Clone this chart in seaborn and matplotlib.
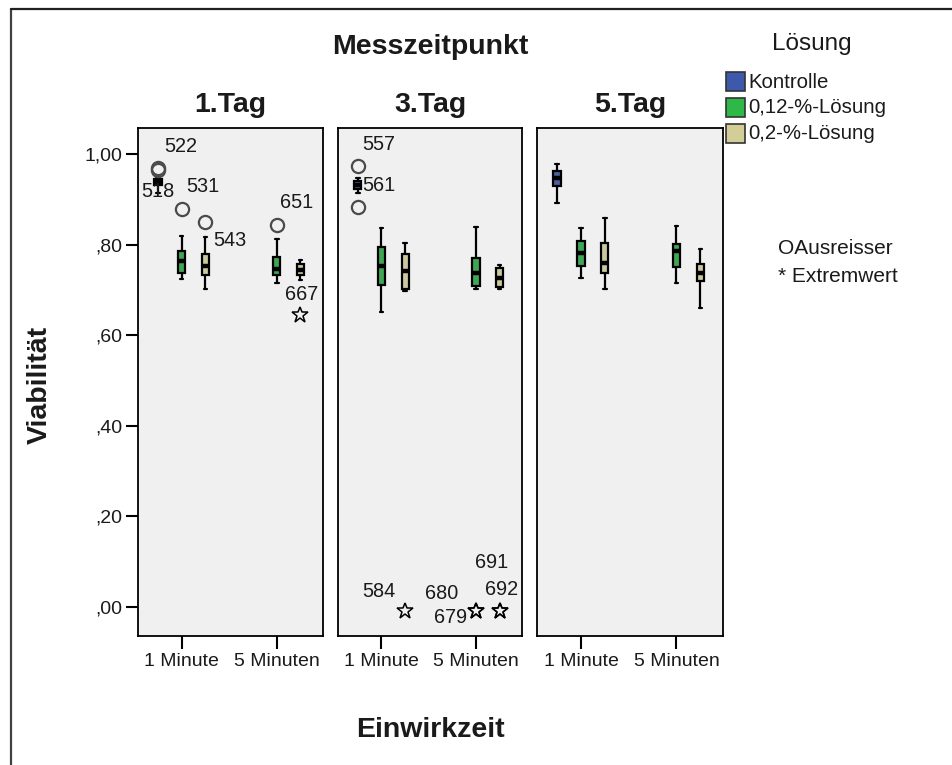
import numpy as np
import pandas as pd
import matplotlib
matplotlib.use("Agg")
import matplotlib.pyplot as plt
import seaborn as sns
from matplotlib.patches import Rectangle
from matplotlib.lines import Line2D

# ---------------- data ----------------
days = ["1.Tag", "3.Tag", "5.Tag"]
times = ["1 Minute", "5 Minuten"]
groups = ["Kontrolle", "0,12-%-Lösung", "0,2-%-Lösung"]
colors = ["#3E58AC", "#2EB848", "#D3CE97"]
y_ticks = [0.0, 0.2, 0.4, 0.6, 0.8, 1.0]
y_ticklabels = [",00", ",20", ",40", ",60", ",80", "1,00"]

# five-number summaries (min, Q1, median, Q3, max) per box
tag1_boxes = [
    ("1 Minute", "Kontrolle",      [0.914, 0.931, 0.938, 0.946, 0.950]),
    ("1 Minute", "0,12-%-Lösung",  [0.725, 0.738, 0.765, 0.787, 0.820]),
    ("1 Minute", "0,2-%-Lösung",   [0.703, 0.732, 0.754, 0.780, 0.817]),
    ("5 Minuten", "0,12-%-Lösung", [0.716, 0.734, 0.747, 0.773, 0.813]),
    ("5 Minuten", "0,2-%-Lösung",  [0.723, 0.732, 0.743, 0.758, 0.767]),
]
tag3_boxes = [
    ("1 Minute", "Kontrolle",      [0.915, 0.923, 0.932, 0.940, 0.947]),
    ("1 Minute", "0,12-%-Lösung",  [0.652, 0.712, 0.754, 0.796, 0.837]),
    ("1 Minute", "0,2-%-Lösung",   [0.698, 0.703, 0.741, 0.780, 0.804]),
    ("5 Minuten", "0,12-%-Lösung", [0.703, 0.709, 0.738, 0.771, 0.839]),
    ("5 Minuten", "0,2-%-Lösung",  [0.701, 0.707, 0.727, 0.749, 0.755]),
]
tag5_boxes = [
    ("1 Minute", "Kontrolle",      [0.893, 0.930, 0.947, 0.963, 0.979]),
    ("1 Minute", "0,12-%-Lösung",  [0.727, 0.753, 0.782, 0.809, 0.837]),
    ("1 Minute", "0,2-%-Lösung",   [0.703, 0.738, 0.760, 0.804, 0.859]),
    ("5 Minuten", "0,12-%-Lösung", [0.716, 0.750, 0.785, 0.802, 0.842]),
    ("5 Minuten", "0,2-%-Lösung",  [0.659, 0.719, 0.738, 0.758, 0.791]),
]

# outliers: (time, group, value, case id, kind) kind "o" = Ausreisser, "*" = Extremwert
tag1_outliers = [
    ("1 Minute", "Kontrolle", 0.969, "522", "o"),
    ("1 Minute", "Kontrolle", 0.966, "518", "o"),
    ("1 Minute", "0,12-%-Lösung", 0.879, "531", "o"),
    ("1 Minute", "0,2-%-Lösung", 0.851, "543", "o"),
    ("5 Minuten", "0,12-%-Lösung", 0.844, "651", "o"),
    ("5 Minuten", "0,2-%-Lösung", 0.644, "667", "*"),
]
tag3_outliers = [
    ("1 Minute", "Kontrolle", 0.974, "557", "o"),
    ("1 Minute", "Kontrolle", 0.884, "561", "o"),
    ("1 Minute", "0,2-%-Lösung", -0.010, "584", "*"),
    ("5 Minuten", "0,12-%-Lösung", -0.010, "679", "*"),
    ("5 Minuten", "0,12-%-Lösung", -0.010, "680", "*"),
    ("5 Minuten", "0,2-%-Lösung", -0.010, "691", "*"),
    ("5 Minuten", "0,2-%-Lösung", -0.010, "692", "*"),
]
tag5_outliers = []

# label offsets (pixels) for case ids -- styling only
label_offsets = {
    "522": (23, 22), "518": (0, -22), "531": (21, 22), "543": (24, -19),
    "651": (20, 22), "667": (1, 21), "557": (21, 21), "561": (21, 21),
    "584": (-26, 20), "680": (-34, 18), "679": (-25, -6), "691": (-8, 49),
    "692": (2, 22),
}

all_boxes = [tag1_boxes, tag3_boxes, tag5_boxes]
all_outliers = [tag1_outliers, tag3_outliers, tag5_outliers]

rows = []
for day, boxes in zip(days, all_boxes):
    for t, g, vals in boxes:
        for v in vals:
            rows.append({"Messzeitpunkt": day, "Einwirkzeit": t, "Lösung": g, "Viabilität": v})
df = pd.DataFrame(rows)

# ---------------- figure ----------------
sns.set_style("white")
plt.rcParams["font.family"] = ["Liberation Sans", "DejaVu Sans"]

W, H = 952, 765
fig = plt.figure(figsize=(W / 100, H / 100), dpi=100)
fig.patch.set_facecolor("white")


def rect(x0, x1, y0, y1):
    return [x0 / W, 1 - y1 / H, (x1 - x0) / W, (y1 - y0) / H]


def fx(x):
    return x / W


def fy(y):
    return 1 - y / H


panel_x = [(138, 323), (338, 522), (537, 723)]
py0, py1 = 128, 636
palette = dict(zip(groups, colors))
hue_off = {g: (i - 1) * 0.25 for i, g in enumerate(groups)}

for i, day in enumerate(days):
    x0, x1 = panel_x[i]
    ax = fig.add_axes(rect(x0, x1, py0, py1))
    sub = df[df["Messzeitpunkt"] == day]
    sns.boxplot(data=sub, x="Einwirkzeit", y="Viabilität", hue="Lösung",
                order=times, hue_order=groups, palette=palette,
                width=0.75, gap=0.7, whis=(0, 100), showfliers=False,
                linecolor="black", linewidth=1.6, legend=False, ax=ax,
                medianprops=dict(color="black", linewidth=3.2))
    for t, g, v, cid, kind in all_outliers[i]:
        xp = times.index(t) + hue_off[g]
        if kind == "o":
            ax.plot([xp], [v], marker="o", ms=9.5, mfc="none", mec="#4a4a4a",
                    mew=1.6, ls="none", zorder=5)
        else:
            ax.plot([xp], [v], marker="*", ms=12, mfc="none", mec="black",
                    mew=1.1, ls="none", zorder=5)
        ax.annotate(cid, (xp, v), xytext=label_offsets[cid], textcoords="offset pixels",
                    ha="center", va="center", fontsize=14.3, color="#1a1a1a", zorder=6)
    ax.set_facecolor("#F0F0F0")
    ax.set_ylim(-0.065, 1.058)
    ax.set_xlim(-0.46, 1.487)
    ax.set_xlabel("")
    ax.set_ylabel("")
    ax.set_xticks(range(len(times)))
    ax.set_xticklabels(times, fontsize=14, color="#1a1a1a")
    ax.tick_params(axis="x", length=9, width=1.5, color="black", pad=3, bottom=True)
    if i == 0:
        ax.set_yticks(y_ticks)
        ax.set_yticklabels(y_ticklabels, fontsize=14, color="#1a1a1a")
        ax.tick_params(axis="y", length=9, width=1.5, color="black", pad=2, left=True)
    else:
        ax.set_yticks([])
    for s in ax.spines.values():
        s.set_color("black")
        s.set_linewidth(1.3)
    fig.text(fx((x0 + x1) / 2), fy(105), day, ha="center", va="center",
             fontsize=20.5, fontweight="bold", color="#1a1a1a")

# titles
fig.text(fx(430), fy(47), "Messzeitpunkt", ha="center", va="center",
         fontsize=20.5, fontweight="bold", color="#1a1a1a")
fig.text(fx(430), fy(730), "Einwirkzeit", ha="center", va="center",
         fontsize=20.5, fontweight="bold", color="#1a1a1a")
fig.text(fx(40), fy(385), "Viabilität", ha="center", va="center", rotation=90,
         fontsize=20.5, fontweight="bold", color="#1a1a1a")

# legend
fig.text(fx(812), fy(44), "Lösung", ha="center", va="center", fontsize=17.5, color="#1a1a1a")
for k, (g, c) in enumerate(zip(groups, colors)):
    ytop = 72 + 25.8 * k
    fig.patches.append(Rectangle((fx(726), fy(ytop + 19)), 19 / W, 19 / H,
                                 transform=fig.transFigure, facecolor=c,
                                 edgecolor="#333333", linewidth=1.2))
    fig.text(fx(748), fy(ytop + 10), g, ha="left", va="center", fontsize=14.7, color="#1a1a1a")
fig.text(fx(778), fy(249), "OAusreisser", ha="left", va="center", fontsize=15, color="#1a1a1a")
fig.text(fx(778), fy(276), "* Extremwert", ha="left", va="center", fontsize=15, color="#1a1a1a")

# outer frame (left and top)
fig.add_artist(Line2D([fx(11), fx(11)], [fy(9), fy(765)], transform=fig.transFigure,
                      color="#404040", linewidth=1.6))
fig.add_artist(Line2D([fx(11), fx(952)], [fy(9), fy(9)], transform=fig.transFigure,
                      color="#202020", linewidth=1.6))

fig.savefig("out.png", dpi=100, facecolor="white")
